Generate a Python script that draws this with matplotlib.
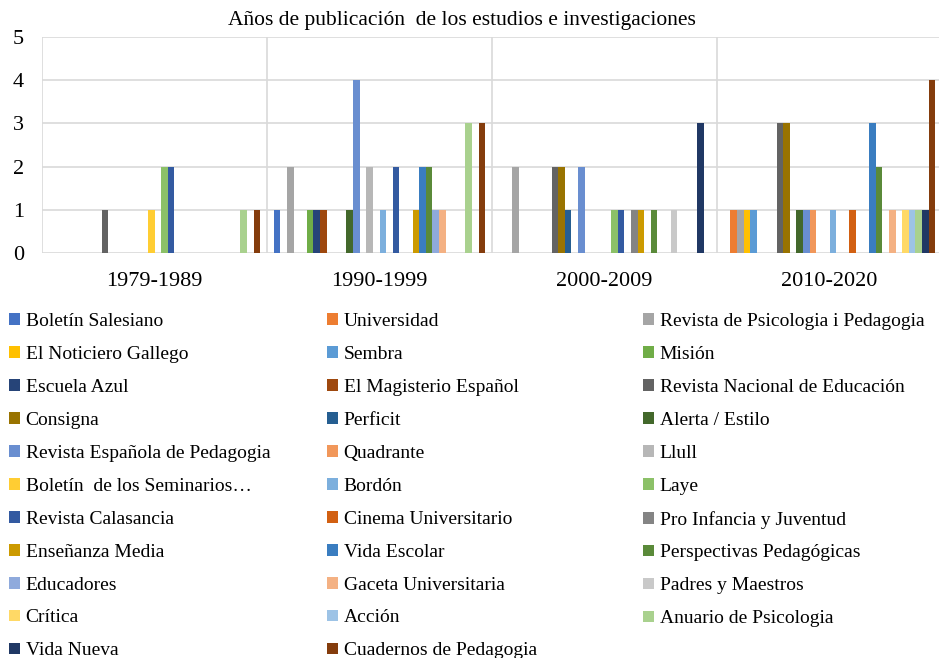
import numpy as np
import matplotlib
matplotlib.use("Agg")
import matplotlib.pyplot as plt
from matplotlib.patches import Patch

plt.rcParams["font.family"] = ["Liberation Serif", "DejaVu Serif"]

periods = ["1979-1989", "1990-1999", "2000-2009", "2010-2020"]

series = [
    "Boletín Salesiano", "Universidad", "Revista de Psicologia i Pedagogia",
    "El Noticiero Gallego", "Sembra", "Misión",
    "Escuela Azul", "El Magisterio Español", "Revista Nacional de Educación",
    "Consigna", "Perficit", "Alerta / Estilo",
    "Revista Española de Pedagogia", "Quadrante", "Llull",
    "Boletín  de los Seminarios…", "Bordón", "Laye",
    "Revista Calasancia", "Cinema Universitario", "Pro Infancia y Juventud",
    "Enseñanza Media", "Vida Escolar", "Perspectivas Pedagógicas",
    "Educadores", "Gaceta Universitaria", "Padres y Maestros",
    "Crítica", "Acción", "Anuario de Psicologia",
    "Vida Nueva", "Cuadernos de Pedagogia",
]

colors = [
    "#4472C4", "#ED7D31", "#A5A5A5", "#FFC000", "#5B9BD5", "#70AD47",
    "#264478", "#9E480E", "#636363", "#997300", "#255E91", "#43682B",
    "#698ED0", "#F1975A", "#B7B7B7", "#FFCD33", "#7CAFDD", "#8CC168",
    "#335AA1", "#D26012", "#848484", "#CC9A00", "#3A7DC0", "#5A8A39",
    "#8FAADC", "#F4B183", "#C9C9C9", "#FFD966", "#9DC3E6", "#A9D18E",
    "#203864", "#843C0C",
]

# counts per period, by series index (0 = missing)
v_1979 = [0, 0, 0, 0, 0, 0, 0, 0, 1, 0, 0, 0, 0, 0, 0, 1,
          0, 2, 2, 0, 0, 0, 0, 0, 0, 0, 0, 0, 0, 1, 0, 1]
v_1990 = [1, 0, 2, 0, 0, 1, 1, 1, 0, 0, 0, 1, 4, 0, 2, 0,
          1, 0, 2, 0, 0, 1, 2, 2, 1, 1, 0, 0, 0, 3, 0, 3]
v_2000 = [0, 0, 2, 0, 0, 0, 0, 0, 2, 2, 1, 0, 2, 0, 0, 0,
          0, 1, 1, 0, 1, 1, 0, 1, 0, 0, 1, 0, 0, 0, 3, 0]
v_2010 = [0, 1, 1, 1, 1, 0, 0, 0, 3, 3, 0, 1, 1, 1, 0, 0,
          1, 0, 0, 1, 0, 0, 3, 2, 0, 1, 0, 1, 1, 1, 1, 4]

values = np.array([v_1979, v_1990, v_2000, v_2010]).T  # series x period

W, H = 939, 658
fig = plt.figure(figsize=(W / 100, H / 100), dpi=100)
ax = fig.add_axes([42 / W, (H - 253) / H, 900 / W, 216 / H])

n = len(series)
w = 0.94 / n
x = np.arange(len(periods))
for i in range(n):
    vals = values[i]
    mask = vals > 0
    ax.bar(x[mask] - 0.47 + w * (i + 0.5), vals[mask], width=w,
           color=colors[i], zorder=3)

ax.set_xlim(-0.5, 3.5)
ax.set_ylim(0, 5)
ax.set_yticks(range(6))
ax.set_xticks(x)
ax.set_xticklabels(periods)
ax.set_xticks(np.arange(-0.5, 4.0, 1.0), minor=True)
ax.grid(True, axis="y", color="#D9D9D9", lw=1.2, zorder=0)
ax.grid(True, axis="x", which="minor", color="#D9D9D9", lw=1.2, zorder=0)
ax.tick_params(axis="both", which="both", length=0, labelsize=16)
ax.tick_params(axis="x", pad=14)
ax.tick_params(axis="y", pad=13)
for s in ax.spines.values():
    s.set_visible(False)

fig.text(462 / W, 1 - 21 / H, "Años de publicación  de los estudios e investigaciones",
         ha="center", va="center", fontsize=15.5)

handles = [Patch(facecolor=c, edgecolor="none") for c in colors]
col_x = [9, 327, 643]
for k in range(3):
    idx = list(range(k, n, 3))
    fig.legend([handles[i] for i in idx], [series[i] for i in idx],
               loc="upper left", bbox_to_anchor=(col_x[k] / W, 1 - 313 / H),
               frameon=False, fontsize=14, handlelength=0.55, handleheight=0.55,
               handletextpad=0.3, labelspacing=0.82, borderaxespad=0,
               borderpad=0)

fig.savefig("out.png", dpi=100)
